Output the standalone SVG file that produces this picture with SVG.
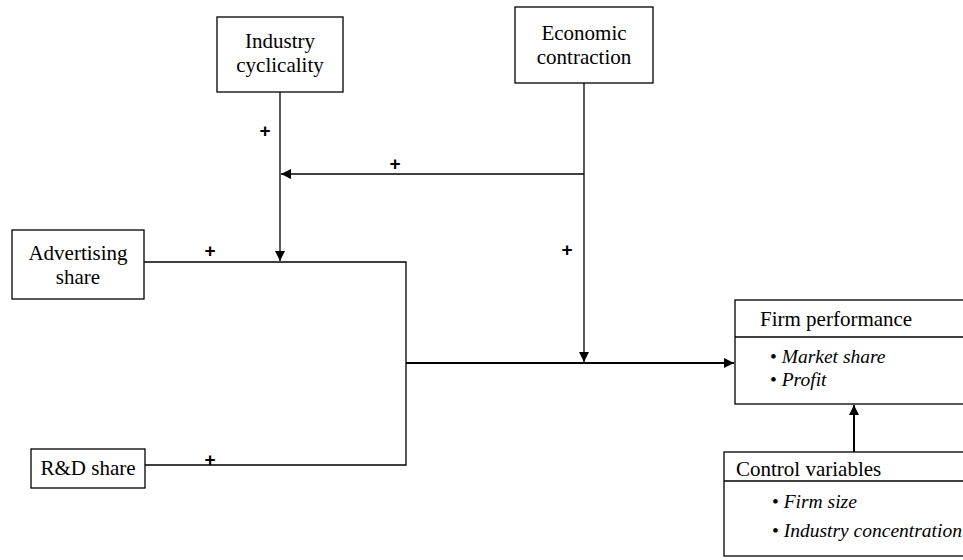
<svg xmlns="http://www.w3.org/2000/svg" width="963" height="560" viewBox="0 0 963 560">
<style>
.box{fill:#fff;stroke:#000;stroke-width:1.3}
.t{font-size:21px;fill:#000}
.b{font-size:19.5px;fill:#000}
.c{text-anchor:middle}
.i{font-style:italic}
.ln{fill:none;stroke:#000;stroke-width:1.3}
.th{fill:none;stroke:#000;stroke-width:2}
.p{font-family:'Liberation Sans',sans-serif;font-size:19px;font-weight:bold;fill:#000;text-anchor:middle}
</style>
<defs>
<marker id="ah" viewBox="0 0 10 10" refX="10" refY="5" markerWidth="10" markerHeight="10" markerUnits="userSpaceOnUse" orient="auto">
<path d="M0,0 L10,5 L0,10 z" fill="#000"/>
</marker>
</defs>
<g id="connectors">
<line class="ln" x1="280" y1="92" x2="280" y2="261" marker-end="url(#ah)"/>
<line class="ln" x1="584" y1="83" x2="584" y2="362" marker-end="url(#ah)"/>
<line class="ln" x1="584" y1="174" x2="281" y2="174" marker-end="url(#ah)"/>
<polyline class="ln" points="144,262 406,262 406,465 145,465"/>
<line class="th" x1="406" y1="363" x2="734" y2="363" marker-end="url(#ah)"/>
<line class="th" x1="854" y1="452" x2="854" y2="405" marker-end="url(#ah)"/>
<text class="p" x="265" y="137">+</text>
<text class="p" x="395" y="170">+</text>
<text class="p" x="210" y="257">+</text>
<text class="p" x="567" y="256">+</text>
<text class="p" x="210" y="466">+</text>
</g>
<g font-family="Liberation Serif, Times New Roman, serif">
<g id="industry-cyclicality">
<rect class="box" x="217" y="17" width="126" height="75"/>
<text class="t c" x="280" y="48">Industry</text>
<text class="t c" x="280" y="72">cyclicality</text>
</g>
<g id="economic-contraction">
<rect class="box" x="515" y="7" width="138" height="76"/>
<text class="t c" x="584" y="40">Economic</text>
<text class="t c" x="584" y="64">contraction</text>
</g>
<g id="advertising-share">
<rect class="box" x="12" y="230" width="132" height="69"/>
<text class="t c" x="78" y="260">Advertising</text>
<text class="t c" x="78" y="284">share</text>
</g>
<g id="rd-share">
<rect class="box" x="31" y="449" width="114" height="39"/>
<text class="t c" x="88" y="475">R&amp;D share</text>
</g>
<g id="firm-performance">
<rect class="box" x="735" y="300" width="240" height="104"/>
<line class="ln" x1="735" y1="337" x2="975" y2="337"/>
<text class="t" x="760" y="326">Firm performance</text>
<text class="b" x="770" y="363">• <tspan class="i">Market share</tspan></text>
<text class="b" x="770" y="386">• <tspan class="i">Profit</tspan></text>
</g>
<g id="control-variables">
<rect class="box" x="724" y="452" width="250" height="104"/>
<line class="ln" x1="724" y1="481" x2="974" y2="481"/>
<text class="t" x="736" y="476">Control variables</text>
<text class="b" x="772" y="508">• <tspan class="i">Firm size</tspan></text>
<text class="b" x="772" y="537">• <tspan class="i">Industry concentration</tspan></text>
</g>
</g>
</svg>
